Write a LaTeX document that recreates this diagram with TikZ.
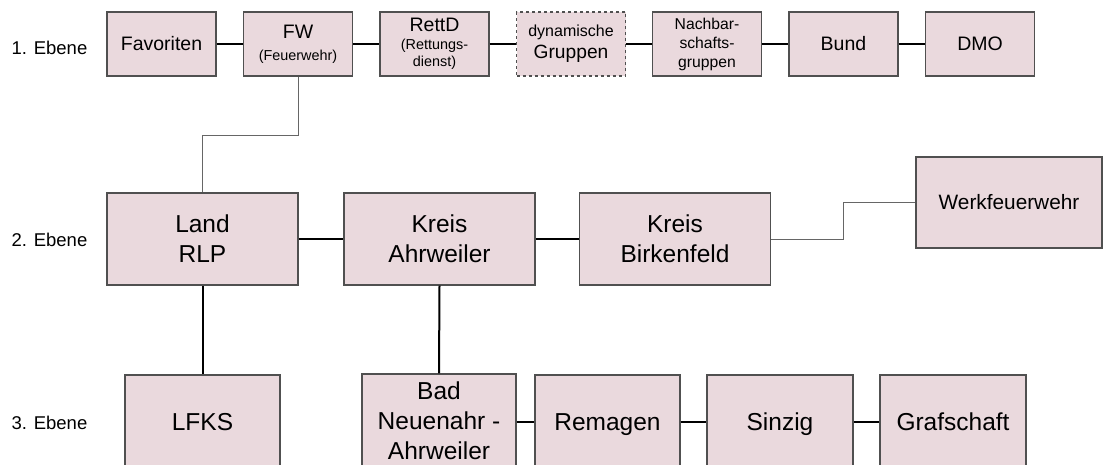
\documentclass[tikz,border=0pt]{standalone}
\usepackage{fontspec}
\setmainfont{Liberation Sans}
\definecolor{boxfill}{RGB}{234,217,221}
\definecolor{boxline}{RGB}{80,80,80}
\tikzset{
  unit/.style={draw=boxline, line width=1.2pt, fill=boxfill, align=center, inner sep=0pt},
  top/.style={unit, minimum width=109pt, minimum height=64pt, font=\fontsize{19.5}{22}\selectfont},
  mid/.style={unit, minimum width=191pt, minimum height=92pt, font=\fontsize{24.5}{30}\selectfont},
  low/.style={unit, minimum height=94pt, font=\fontsize{24.5}{30}\selectfont},
  nodepth/.style={text depth=0pt},
  lvl/.style={anchor=west, font=\fontsize{18.5}{22}\selectfont},
  link/.style={line width=2pt},
  thinlink/.style={line width=1pt, draw=black!60}
}
\begin{document}
\begin{tikzpicture}[x=1pt, y=-1pt]
\useasboundingbox (0,0) rectangle (1103,464);
% level labels
\node[lvl] (e1) at (8, 48) {1. Ebene};
\node[lvl] (e2) at (8, 240) {2. Ebene};
\node[lvl] (e3) at (8, 423) {3. Ebene};
% 1. Ebene
\node[top] (fav) at (161.5, 44) {Favoriten};
\node[top] (fw) at (298, 44) {FW\\[0pt]{\fontsize{14.4}{18}\selectfont (Feuerwehr)}};
\node[top, font=\fontsize{14.4}{17.5}\selectfont] (rettd) at (434.5, 44) {{\fontsize{19.5}{22}\selectfont RettD}\\(Rettungs-\\dienst)};
\node[top, dashed, font=\fontsize{19.2}{22}\selectfont] (dyn) at (571, 44) {{\fontsize{16}{19}\selectfont dynamische}\\Gruppen};
\node[top, font=\fontsize{15.7}{19}\selectfont] (nachbar) at (707, 44) {Nachbar-\\schafts-\\gruppen};
\node[top] (bund) at (843.5, 44) {Bund};
\node[top] (dmo) at (980, 44) {DMO};
% 2. Ebene
\node[mid] (land) at (202.5, 239) {Land\\RLP};
\node[mid] (kahr) at (439.5, 239) {Kreis\\Ahrweiler};
\node[mid] (kbirk) at (675, 239) {Kreis\\Birkenfeld};
\node[unit, minimum width=186pt, minimum height=91pt, font=\fontsize{20.8}{24}\selectfont] (werk) at (1009, 202.5) {Werkfeuerwehr};
% 3. Ebene
\node[low, minimum width=155pt] (lfks) at (202.5, 422) {LFKS};
\node[low, minimum width=154pt] (bad) at (439, 421) {Bad\\Neuenahr -\\Ahrweiler};
\node[low, nodepth, minimum width=145pt] (rem) at (607.5, 422) {Remagen};
\node[low, nodepth, minimum width=146pt] (sinz) at (780, 422) {Sinzig};
\node[low, minimum width=146pt] (graf) at (953, 422) {Grafschaft};
% connectors
\draw[link] (fav) -- (fw);
\draw[link] (fw) -- (rettd);
\draw[link] (rettd) -- (dyn);
\draw[link] (dyn) -- (nachbar);
\draw[link] (nachbar) -- (bund);
\draw[link] (bund) -- (dmo);
\draw[thinlink] (fw.south) -- ++(0,59) -| (land.north);
\draw[link] (land) -- (kahr);
\draw[link] (kahr) -- (kbirk);
\draw[thinlink] (kbirk.east) -- ++(72,0) |- (werk.west);
\draw[link] (land) -- (lfks);
\draw[link] (kahr.south) -- (bad.north);
\draw[link] (bad.east |- rem) -- (rem);
\draw[link] (rem) -- (sinz);
\draw[link] (sinz) -- (graf);
\end{tikzpicture}
\end{document}
